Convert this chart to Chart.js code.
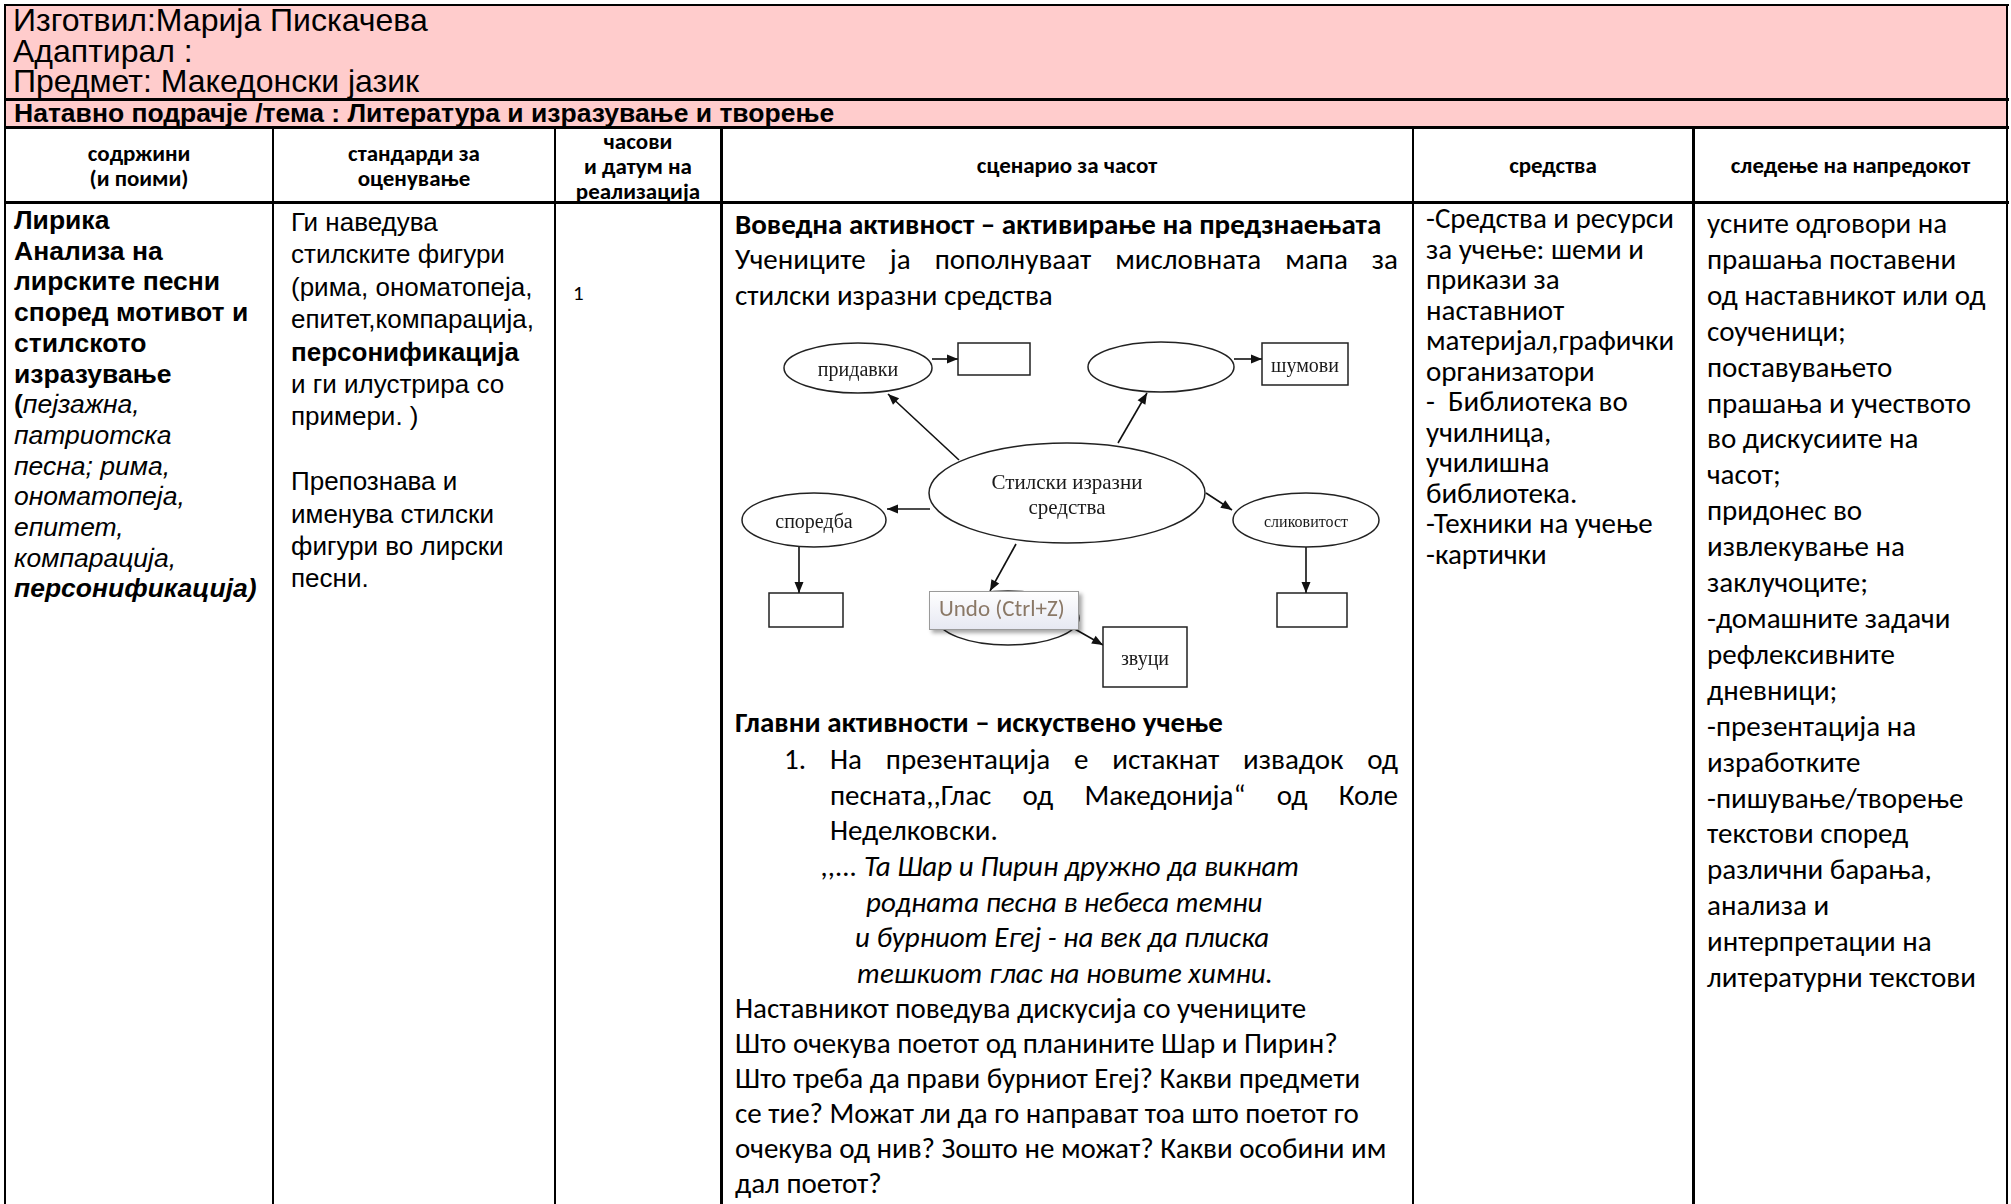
<!DOCTYPE html>
<html>
<head>
<meta charset="utf-8">
<script src="https://cdn.jsdelivr.net/npm/chart.js@4.4.1/dist/chart.umd.min.js"></script>
<style>
  body { margin: 0; background: #fff; }
  #page { position: relative; width: 2011px; height: 1204px; overflow: hidden; background: #fff; color: #000; }
  .ln { position: absolute; background: #000; }
  .blk { position: absolute; white-space: pre; }
  .ar { font-family: "Liberation Sans", Arial, sans-serif; }
  .cb { font-family: Carlito, Lato, "Open Sans", sans-serif; }
  .hd { position: absolute; text-align: center; font-weight: bold; font-size: 23px; }
  .row4 { position: absolute; left: 735px; width: 663px; height: 36px; line-height: 36px; font-size: 29px; white-space: nowrap; }
  .just { text-align: justify; text-align-last: justify; white-space: normal; }
  .c1 { position: absolute; left: 14px; height: 30.7px; line-height: 30.7px; font-size: 26.5px; white-space: nowrap; }
  #diagram { position: absolute; left: 730px; top: 330px; }
</style>
</head>
<body>
<div id="page">
  <div style="position:absolute;left:5px;top:5px;width:2003px;height:122px;background:#ffcccc;"></div>

  <div class="blk ar" style="left:13px;top:5px;font-size:32px;line-height:30.5px;">Изготвил:Марија Пискачева
Адаптирал :
Предмет: Македонски јазик</div>
  <div class="blk ar" style="left:14px;top:100px;font-size:26.5px;line-height:27px;font-weight:bold;">Натавно подрачје /тема : Литература и изразување и творење</div>

  <div class="hd cb" style="left:5px;width:268px;top:140.5px;line-height:25.5px;">содржини<br>(и поими)</div>
  <div class="hd cb" style="left:273px;width:282px;top:140.5px;line-height:25.5px;">стандарди за<br>оценување</div>
  <div class="hd cb" style="left:555px;width:166px;top:128.5px;line-height:25px;">часови<br>и датум на<br>реализација</div>
  <div class="hd cb" style="left:721px;width:692px;top:152px;line-height:26px;">сценарио за часот</div>
  <div class="hd cb" style="left:1413px;width:280px;top:152px;line-height:26px;">средства</div>
  <div class="hd cb" style="left:1693px;width:315px;top:152px;line-height:26px;">следење на напредокот</div>

  <div class="c1 ar" style="top:205px;font-weight:bold;">Лирика</div>
  <div class="c1 ar" style="top:235.7px;font-weight:bold;">Анализа на</div>
  <div class="c1 ar" style="top:266.4px;font-weight:bold;">лирските песни</div>
  <div class="c1 ar" style="top:297.1px;font-weight:bold;">според мотивот и</div>
  <div class="c1 ar" style="top:327.8px;font-weight:bold;">стилското</div>
  <div class="c1 ar" style="top:358.5px;font-weight:bold;">изразување</div>
  <div class="c1 ar" style="top:389.2px;"><b>(</b><i>пејзажна,</i></div>
  <div class="c1 ar" style="top:419.9px;font-style:italic;">патриотска</div>
  <div class="c1 ar" style="top:450.6px;font-style:italic;">песна; рима,</div>
  <div class="c1 ar" style="top:481.3px;font-style:italic;">ономатопеја,</div>
  <div class="c1 ar" style="top:512px;font-style:italic;">епитет,</div>
  <div class="c1 ar" style="top:542.7px;font-style:italic;">компарација,</div>
  <div class="c1 ar" style="top:573.4px;font-style:italic;font-weight:bold;">персонификација)</div>

  <div class="blk ar" style="left:291px;top:206px;font-size:26px;line-height:32.4px;">Ги наведува
стилските фигури
(рима, ономатопеја,
епитет,компарација,
<b>персонификација</b>
и ги илустрира со
примери. )

Препознава и
именува стилски
фигури во лирски
песни.</div>

  <div class="blk cb" style="left:573px;top:280px;font-size:21px;line-height:26px;">1</div>

  <div class="row4 cb" style="top:206px;font-weight:bold;">Воведна активност – активирање на предзнаењата</div>
  <div class="row4 cb just" style="top:241px;">Учениците ја пополнуваат мисловната мапа за</div>
  <div class="row4 cb" style="top:277px;">стилски изразни средства</div>

  <div class="row4 cb" style="top:704px;font-weight:bold;">Главни активности – искуствено учење</div>
  <div class="row4 cb" style="top:741px;left:784px;width:40px;">1.</div>
  <div class="row4 cb just" style="top:741px;left:830px;width:568px;">На презентација е истакнат извадок од</div>
  <div class="row4 cb just" style="top:777px;left:830px;width:568px;">песната,,Глас од Македонија“ од Коле</div>
  <div class="row4 cb" style="top:812px;left:830px;width:568px;">Неделковски.</div>
  <div class="row4 cb" style="top:848px;left:821px;width:577px;font-style:italic;">,,... Та Шар и Пирин дружно да викнат</div>
  <div class="row4 cb" style="top:884px;left:866px;width:532px;font-style:italic;">родната песна в небеса темни</div>
  <div class="row4 cb" style="top:919px;left:855px;width:543px;font-style:italic;">и бурниот Егеј - на век да плиска</div>
  <div class="row4 cb" style="top:955px;left:857px;width:541px;font-style:italic;">тешкиот глас на новите химни.</div>
  <div class="row4 cb" style="top:990px;">Наставникот поведува дискусија со учениците</div>
  <div class="row4 cb" style="top:1025px;">Што очекува поетот од планините Шар и Пирин?</div>
  <div class="row4 cb" style="top:1060px;">Што треба да прави бурниот Егеј? Какви предмети</div>
  <div class="row4 cb" style="top:1095px;">се тие? Можат ли да го направат тоа што поетот го</div>
  <div class="row4 cb" style="top:1130px;">очекува од нив? Зошто не можат? Какви особини им</div>
  <div class="row4 cb" style="top:1165px;">дал поетот?</div>

  <div class="blk cb" style="left:1426px;top:203px;font-size:29px;line-height:30.5px;">-Средства и ресурси
за учење: шеми и
прикази за
наставниот
материјал,графички
организатори
-  Библиотека во
училница,
училишна
библиотека.
-Техники на учење
-картички</div>

  <div class="blk cb" style="left:1707px;top:206px;font-size:29px;line-height:35.9px;">усните одговори на
прашања поставени
од наставникот или од
соученици;
поставувањето
прашања и учеството
во дискусиите на
часот;
придонес во
извлекување на
заклучоците;
-домашните задачи
рефлексивните
дневници;
-презентација на
изработките
-пишување/творење
текстови според
различни барања,
анализа и
интерпретации на
литературни текстови</div>

  <canvas id="diagram" width="680" height="370"></canvas>

  <div class="ln" style="left:4px;top:4px;width:2005px;height:2px;"></div>
  <div class="ln" style="left:4px;top:4px;width:2px;height:1200px;"></div>
  <div class="ln" style="left:2006px;top:4px;width:2px;height:1200px;"></div>
  <div class="ln" style="left:4px;top:98px;width:2005px;height:3px;"></div>
  <div class="ln" style="left:4px;top:126px;width:2005px;height:3px;"></div>
  <div class="ln" style="left:4px;top:201px;width:2005px;height:3px;"></div>
  <div class="ln" style="left:272px;top:127px;width:2px;height:1077px;"></div>
  <div class="ln" style="left:554px;top:127px;width:2px;height:1077px;"></div>
  <div class="ln" style="left:720px;top:127px;width:3px;height:1077px;"></div>
  <div class="ln" style="left:1412px;top:127px;width:2px;height:1077px;"></div>
  <div class="ln" style="left:1692px;top:127px;width:3px;height:1077px;"></div>
</div>

<script>
// mind map nodes, in diagram units
var nodeLabels = ['придавки', '', '', 'шумови', 'Стилски изразни|средства', 'споредба', '', 'сликовитост', '', '', 'звуци'];
var nodeShapes = ['ellipse', 'rect', 'ellipse', 'rect', 'ellipse', 'ellipse', 'rect', 'ellipse', 'rect', 'ellipse', 'rect'];
var nodeX = [128, 264, 431, 575, 337, 84, 76, 576, 582, 278, 415];
var nodeY = [38, 29, 37, 34, 163, 190, 280, 190, 280, 288, 327];
var nodeHalfW = [74, 36, 73, 43, 138, 72, 37, 73, 35, 71, 42];
var nodeHalfH = [25, 16, 25, 21, 50, 27, 17, 27, 17, 27, 30];

// arrows between nodes
var arrowFromX = [202, 229, 504, 388, 200, 69, 476, 576, 286, 343];
var arrowFromY = [29, 130, 29, 113, 179, 214, 163, 217, 214, 298];
var arrowToX = [228, 158, 532, 417, 157, 69, 502, 576, 260, 373];
var arrowToY = [29, 64, 29, 63, 179, 263, 180, 263, 261, 315];

// the "Undo" tip that sits over the lower node
var undoText = 'Undo (Ctrl+Z)';
var undoBox = [199, 261, 349, 300];

function buildDiagram() {
    var canvas = document.getElementById('diagram');

    var nodePoints = [];
    for (var i = 0; i < nodeX.length; i++) {
        nodePoints.push({ x: nodeX[i], y: nodeY[i] });
    }

    var datasets = [{
        label: 'nodes',
        data: nodePoints,
        pointRadius: 0,
        showLine: false
    }];

    for (var j = 0; j < arrowFromX.length; j++) {
        datasets.push({
            label: 'arrow' + j,
            data: [{ x: arrowFromX[j], y: arrowFromY[j] }, { x: arrowToX[j], y: arrowToY[j] }],
            showLine: true,
            borderColor: '#111',
            borderWidth: 1.6,
            pointRadius: 0
        });
    }

    var diagramPlugin = {
        id: 'diagramNodes',
        afterDatasetsDraw: function (chart) {
            var ctx = chart.ctx;
            var xs = chart.scales.x;
            var ys = chart.scales.y;
            var meta = chart.getDatasetMeta(0);

            ctx.save();
            for (var i = 0; i < meta.data.length; i++) {
                var pt = meta.data[i];
                var rx = Math.abs(xs.getPixelForValue(nodeX[i] + nodeHalfW[i]) - pt.x);
                var ry = Math.abs(ys.getPixelForValue(nodeY[i] + nodeHalfH[i]) - pt.y);
                ctx.beginPath();
                if (nodeShapes[i] == 'ellipse') {
                    ctx.ellipse(pt.x, pt.y, rx, ry, 0, 0, Math.PI * 2);
                } else {
                    ctx.rect(pt.x - rx, pt.y - ry, rx * 2, ry * 2);
                }
                ctx.fillStyle = '#fff';
                ctx.fill();
                ctx.lineWidth = 1.5;
                ctx.strokeStyle = '#222';
                ctx.stroke();

                if (nodeLabels[i]) {
                    var lines = nodeLabels[i].split('|');
                    var size = lines.length > 1 ? 21 : (nodeLabels[i].length > 10 ? 16 : 20);
                    ctx.font = size + 'px "Liberation Serif", "DejaVu Serif", serif';
                    ctx.fillStyle = '#1a1a1a';
                    ctx.textAlign = 'center';
                    ctx.textBaseline = 'middle';
                    for (var k = 0; k < lines.length; k++) {
                        ctx.fillText(lines[k], pt.x, pt.y + 3 + (k - (lines.length - 1) / 2) * 25);
                    }
                }
            }

            // arrow heads
            for (var j = 0; j < arrowFromX.length; j++) {
                var am = chart.getDatasetMeta(j + 1);
                var p0 = am.data[0], p1 = am.data[1];
                var ang = Math.atan2(p1.y - p0.y, p1.x - p0.x);
                ctx.beginPath();
                ctx.moveTo(p1.x, p1.y);
                ctx.lineTo(p1.x - 11 * Math.cos(ang) + 4.5 * Math.sin(ang), p1.y - 11 * Math.sin(ang) - 4.5 * Math.cos(ang));
                ctx.lineTo(p1.x - 11 * Math.cos(ang) - 4.5 * Math.sin(ang), p1.y - 11 * Math.sin(ang) + 4.5 * Math.cos(ang));
                ctx.closePath();
                ctx.fillStyle = '#111';
                ctx.fill();
            }

            // undo tip
            var bx0 = xs.getPixelForValue(undoBox[0]);
            var by0 = ys.getPixelForValue(undoBox[1]);
            var bx1 = xs.getPixelForValue(undoBox[2]);
            var by1 = ys.getPixelForValue(undoBox[3]);
            ctx.shadowColor = 'rgba(0,0,0,0.35)';
            ctx.shadowBlur = 4;
            ctx.shadowOffsetX = 3;
            ctx.shadowOffsetY = 3;
            var grad = ctx.createLinearGradient(0, by0, 0, by1);
            grad.addColorStop(0, '#ffffff');
            grad.addColorStop(1, '#e6e8f2');
            ctx.fillStyle = grad;
            ctx.fillRect(bx0, by0, bx1 - bx0, by1 - by0);
            ctx.shadowColor = 'transparent';
            ctx.strokeStyle = '#9a9a9a';
            ctx.lineWidth = 1;
            ctx.strokeRect(bx0 + 0.5, by0 + 0.5, bx1 - bx0 - 1, by1 - by0 - 1);
            ctx.font = '23px Carlito, Lato, sans-serif';
            ctx.fillStyle = '#8a7866';
            ctx.textAlign = 'left';
            ctx.textBaseline = 'middle';
            ctx.fillText(undoText, bx0 + 10, (by0 + by1) / 2);
            ctx.restore();
        }
    };

    new Chart(canvas, {
        type: 'scatter',
        data: { datasets: datasets },
        options: {
            responsive: false,
            animation: false,
            devicePixelRatio: 1,
            events: [],
            layout: { padding: 0 },
            scales: {
                x: { type: 'linear', min: 0, max: 680, display: false },
                y: { type: 'linear', min: 0, max: 370, reverse: true, display: false }
            },
            plugins: {
                legend: { display: false },
                tooltip: { enabled: false }
            }
        },
        plugins: [diagramPlugin]
    });
}

buildDiagram();
</script>
</body>
</html>
